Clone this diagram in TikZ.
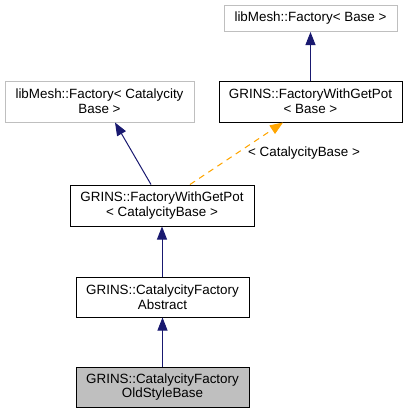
\documentclass[tikz,border=0pt]{standalone}
\usepackage{fontspec}
\setmainfont{Liberation Sans}
\usetikzlibrary{arrows.meta}
\definecolor{navyarrow}{HTML}{191970}
\definecolor{orangearrow}{HTML}{FFA500}
\definecolor{graybox}{HTML}{BFBFBF}
\begin{document}
\begin{tikzpicture}[x=1pt,y=-1pt,
  every node/.style={font=\fontsize{13.4}{14.7}\selectfont, align=center, inner sep=0pt},
  cls/.style={draw=black, line width=1pt, fill=white},
  ext/.style={draw=graybox, line width=1pt, fill=white},
  cur/.style={draw=black, line width=1pt, fill=graybox},
  inh/.style={draw=navyarrow, line width=1pt, -{Triangle[length=13pt,width=10pt]}},
  tpl/.style={draw=orangearrow, line width=1pt, dash pattern=on 6pt off 5pt, -{Triangle[length=13pt,width=10pt]}}]
\useasboundingbox (0,0) rectangle (408,413);
\node[ext, minimum width=173pt, minimum height=26pt] (lb) at (310.5,18.5) {libMesh::Factory< Base >};
\node[cls, minimum width=183pt, minimum height=41pt] (fb) at (310.5,101.5) {GRINS::FactoryWithGetPot\\< Base >};
\node[ext, minimum width=189pt, minimum height=41pt] (lc) at (99.5,101.5) {libMesh::Factory< Catalycity\\Base >};
\node[cls, minimum width=184pt, minimum height=41pt] (fc) at (162,205.5) {GRINS::FactoryWithGetPot\\< CatalycityBase >};
\node[cls, minimum width=173pt, minimum height=40pt] (ab) at (162.5,297) {GRINS::CatalycityFactory\\Abstract};
\node[cur, minimum width=173pt, minimum height=40pt] (ob) at (162.5,387) {GRINS::CatalycityFactory\\OldStyleBase};
\draw[inh] (fb.north) -- (lb.south);
\draw[inh] (fc.north -| 151,0) -- (lc.south -| 115,0);
\draw[tpl] (fc.north -| 190,0) -- (fb.south -| 283,0);
\node (tl) at (304,153) {< CatalycityBase >};
\draw[inh] (ab.north -| fc.south) -- (fc.south);
\draw[inh] (ob.north) -- (ab.south);
\end{tikzpicture}
\end{document}
